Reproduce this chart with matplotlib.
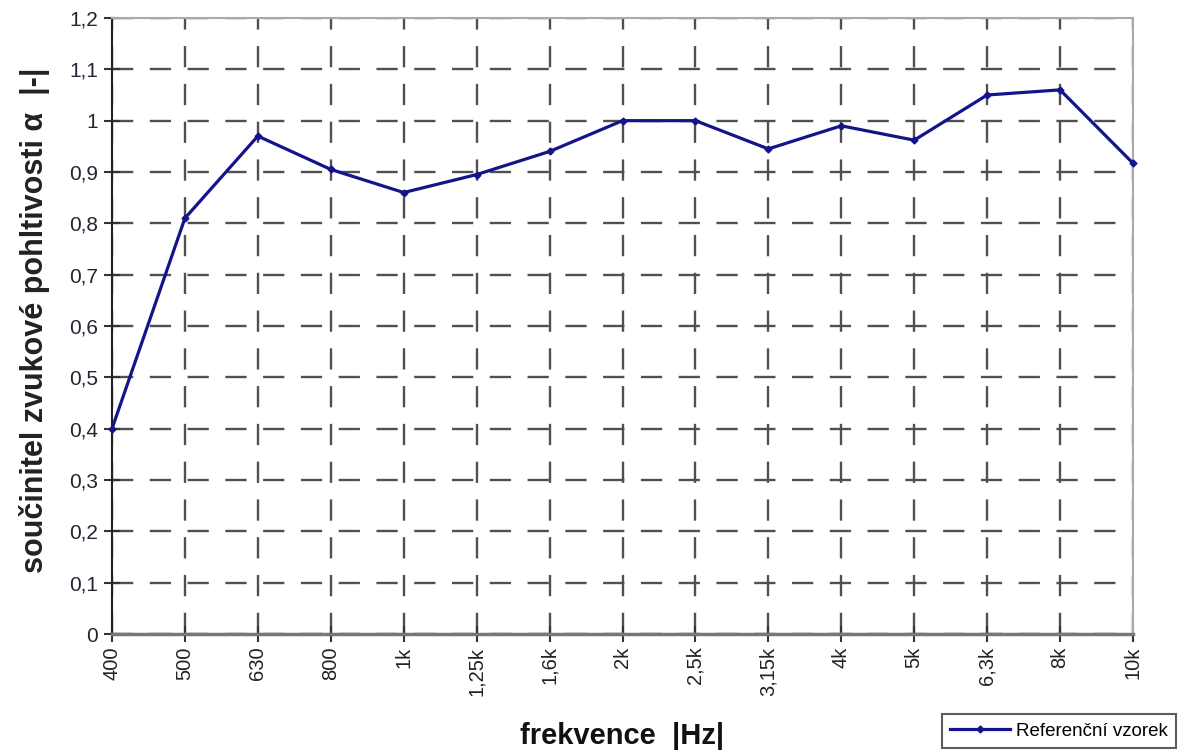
import matplotlib
matplotlib.use("Agg")
import matplotlib.pyplot as plt

categories = ["400", "500", "630", "800", "1k", "1,25k", "1,6k", "2k", "2,5k",
              "3,15k", "4k", "5k", "6,3k", "8k", "10k"]
alpha_values = [0.40, 0.81, 0.97, 0.905, 0.86, 0.895, 0.94, 1.00, 1.00,
                0.945, 0.99, 0.962, 1.05, 1.06, 0.917]
y_ticks = [0, 0.1, 0.2, 0.3, 0.4, 0.5, 0.6, 0.7, 0.8, 0.9, 1.0, 1.1, 1.2]
y_tick_labels = ["0", "0,1", "0,2", "0,3", "0,4", "0,5", "0,6", "0,7", "0,8",
                 "0,9", "1", "1,1", "1,2"]

plt.rcParams['font.family'] = ['Liberation Sans', 'DejaVu Sans']

fig = plt.figure(figsize=(11.84, 7.55), dpi=100)
ax = fig.add_axes([112/1184, 121/755, (1133-112)/1184, (634-18)/755])

x = list(range(len(categories)))
ax.plot(x, alpha_values, color='#14148a', lw=2.3, marker='D', ms=3.5,
        label='Referenční vzorek', zorder=5, clip_on=False)

ax.set_xlim(0, len(categories) - 1)
ax.set_ylim(0, 1.2)
ax.set_xticks(x)
ax.set_xticklabels(categories, rotation=90, fontsize=14.5, color='#222222')
ax.set_yticks(y_ticks)
ax.set_yticklabels(y_tick_labels, fontsize=15, color='#2a2233')

ax.grid(True, which='major', color='#505050', lw=1.7, dashes=(9, 7))
ax.set_axisbelow(True)

ax.tick_params(axis='both', direction='inout', length=12, width=1.5, color='#333333')
ax.tick_params(axis='y', pad=4)
ax.tick_params(axis='x', pad=3)

for s in ['top', 'right']:
    ax.spines[s].set_color('#aaaaaa')
    ax.spines[s].set_linewidth(1.5)
ax.spines['left'].set_color('#222222')
ax.spines['left'].set_linewidth(1.5)
ax.spines['bottom'].set_color('#777777')
ax.spines['bottom'].set_linewidth(2.5)

ax.set_ylabel('součinitel zvukové pohltivosti α  |-|', fontsize=22,
              fontweight='bold', color='#222222', labelpad=6)
ax.yaxis.set_label_coords(-0.061, 0.51)
fig.text(622/1184, 1 - 736/755, 'frekvence  |Hz|', fontsize=21, fontweight='bold',
         color='#111111', ha='center', va='center')

leg = fig.legend(loc='center', bbox_to_anchor=(1059/1184, 1 - 731/755),
                 fontsize=13.5, frameon=True, fancybox=False, edgecolor='#333333',
                 handlelength=3.2, borderpad=0.45, handletextpad=0.3)
leg.get_frame().set_linewidth(1.5)

fig.savefig('out.png', dpi=100)
